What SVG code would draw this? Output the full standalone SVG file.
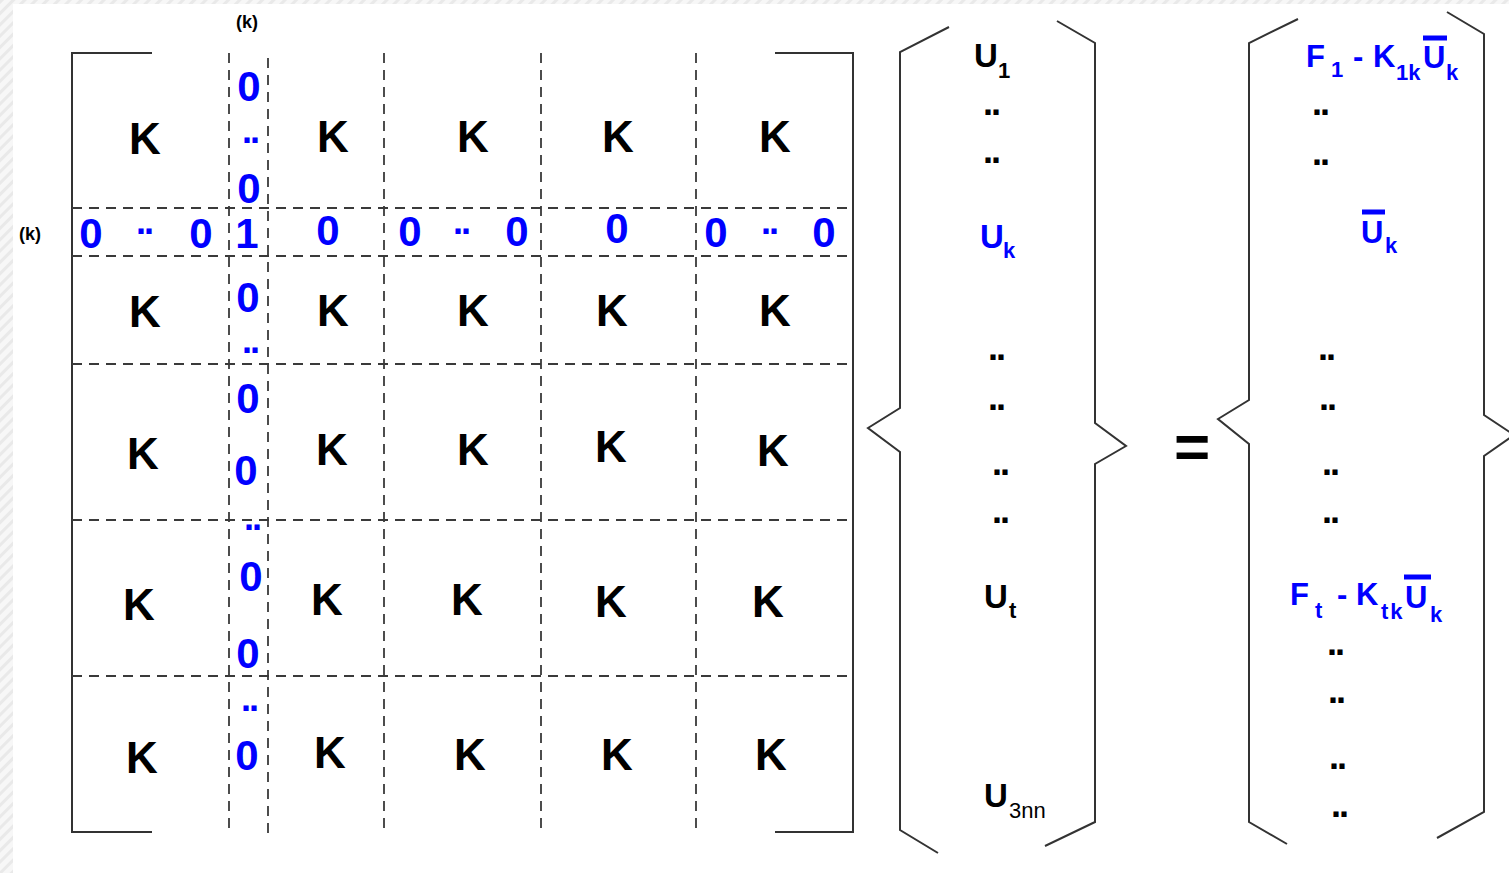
<svg xmlns="http://www.w3.org/2000/svg" width="1509" height="873" viewBox="0 0 1509 873">
<defs>
<pattern id="hatch" width="8" height="8" patternUnits="userSpaceOnUse" patternTransform="rotate(45)">
<rect width="8" height="8" fill="#f7f7f7"/>
<rect width="3" height="8" fill="#e9e9e9"/>
</pattern>
<style>
text{font-family:"Liberation Sans",Arial,sans-serif;font-weight:bold;}
.k{font-size:44px;fill:#000;text-anchor:middle;}
.z{font-size:42px;fill:#0000ff;text-anchor:middle;}
.dz{font-size:36px;fill:#0000ff;text-anchor:middle;letter-spacing:-2px;}
.dk{font-size:36px;fill:#000;text-anchor:middle;letter-spacing:-2px;}
.lbl{font-size:18px;fill:#000;text-anchor:middle;}
.u{font-size:33px;fill:#000;}
.ub{font-size:33px;fill:#0000ff;}
.f{font-size:31px;fill:#0000ff;}
.sub{font-size:22px;}
.br{fill:none;stroke:#333;stroke-width:2;}
.dash{fill:none;stroke:#3a3a3a;stroke-width:1.8;stroke-dasharray:10 7;}
.bar{stroke:#0000ff;stroke-width:5;}
</style>
</defs>
<rect width="1509" height="873" fill="#fff"/>
<rect x="0" y="0" width="13" height="873" fill="url(#hatch)"/>
<rect x="0" y="0" width="1509" height="4" fill="url(#hatch)"/>

<g id="matrix">
<path class="br" d="M152 53 H72 V832 H152"/>
<path class="br" d="M775 53 H853 V832 H775"/>
<g id="grid">
<line class="dash" x1="229" y1="53" x2="229" y2="832"/>
<line class="dash" x1="268" y1="58" x2="268" y2="837"/>
<line class="dash" x1="384" y1="53" x2="384" y2="832"/>
<line class="dash" x1="541" y1="53" x2="541" y2="832"/>
<line class="dash" x1="696" y1="53" x2="696" y2="832"/>
<line class="dash" x1="72" y1="208" x2="853" y2="208"/>
<line class="dash" x1="72" y1="256" x2="853" y2="256"/>
<line class="dash" x1="72" y1="364" x2="853" y2="364"/>
<line class="dash" x1="72" y1="520" x2="853" y2="520"/>
<line class="dash" x1="72" y1="676" x2="853" y2="676"/>
</g>
<text class="lbl" x="247" y="28">(k)</text>
<text class="lbl" x="30" y="240">(k)</text>
<g id="k-entries">
<text class="k" x="145" y="154">K</text>
<text class="k" x="333" y="152">K</text>
<text class="k" x="473" y="152">K</text>
<text class="k" x="618" y="152">K</text>
<text class="k" x="775" y="152">K</text>
<text class="k" x="145" y="327">K</text>
<text class="k" x="333" y="326">K</text>
<text class="k" x="473" y="326">K</text>
<text class="k" x="612" y="326">K</text>
<text class="k" x="775" y="326">K</text>
<text class="k" x="143" y="469">K</text>
<text class="k" x="332" y="465">K</text>
<text class="k" x="473" y="465">K</text>
<text class="k" x="611" y="462">K</text>
<text class="k" x="773" y="466">K</text>
<text class="k" x="139" y="620">K</text>
<text class="k" x="327" y="615">K</text>
<text class="k" x="467" y="615">K</text>
<text class="k" x="611" y="617">K</text>
<text class="k" x="768" y="617">K</text>
<text class="k" x="142" y="773">K</text>
<text class="k" x="330" y="768">K</text>
<text class="k" x="470" y="770">K</text>
<text class="k" x="617" y="770">K</text>
<text class="k" x="771" y="770">K</text>
</g>
<g id="k-column">
<text class="z" x="249" y="101">0</text>
<text class="dz" x="250" y="143">..</text>
<text class="z" x="249" y="203">0</text>
<text class="z" x="247" y="248">1</text>
<text class="z" x="248" y="312">0</text>
<text class="dz" x="250" y="353">..</text>
<text class="z" x="248" y="413">0</text>
<text class="z" x="246" y="485">0</text>
<text class="dz" x="252" y="530">..</text>
<text class="z" x="251" y="591">0</text>
<text class="z" x="248" y="668">0</text>
<text class="dz" x="249" y="711">..</text>
<text class="z" x="247" y="770">0</text>
</g>
<g id="k-row">
<text class="z" x="91" y="248">0</text>
<text class="dz" x="144" y="234">..</text>
<text class="z" x="201" y="248">0</text>
<text class="z" x="328" y="245">0</text>
<text class="z" x="410" y="246">0</text>
<text class="dz" x="461" y="234">..</text>
<text class="z" x="517" y="246">0</text>
<text class="z" x="617" y="243">0</text>
<text class="z" x="716" y="247">0</text>
<text class="dz" x="769" y="234">..</text>
<text class="z" x="824" y="247">0</text>
</g>
</g>

<g id="vector-u">
<path class="br" d="M949 27 L900 52 V408 L868 428 L900 452 V830 L938 853"/>
<path class="br" d="M1057 21 L1095 43 V423 L1126 446 L1095 464 V822 L1045 846"/>
<text class="u" x="974" y="67">U<tspan class="sub" x="998" y="78">1</tspan></text>
<text class="dk" x="991" y="115">..</text>
<text class="dk" x="991" y="163">..</text>
<text class="ub" x="980" y="248">U<tspan class="sub" x="1003" y="258">k</tspan></text>
<text class="dk" x="996" y="360">..</text>
<text class="dk" x="996" y="410">..</text>
<text class="dk" x="1000" y="475">..</text>
<text class="dk" x="1000" y="523">..</text>
<text class="u" x="984" y="608">U<tspan class="sub" x="1009" y="618">t</tspan></text>
<text class="u" x="984" y="807">U<tspan class="sub" x="1009" y="818" style="font-weight:normal">3nn</tspan></text>
</g>

<g id="equals">
<text x="1192" y="468" style="font-size:62px;text-anchor:middle;fill:#000">=</text>
</g>

<g id="vector-f">
<path class="br" d="M1298 19 L1249 43 V400 L1218 419 L1249 444 V822 L1287 844"/>
<path class="br" d="M1447 12 L1484 34 V415 L1514 435 L1484 456 V812 L1437 838"/>
<text class="f" x="1306" y="67">F<tspan class="sub" x="1331" y="77">1</tspan><tspan x="1353" y="67">-</tspan><tspan x="1373" y="67">K</tspan><tspan class="sub" x="1396" y="80">1k</tspan><tspan x="1423" y="68">U</tspan><tspan class="sub" x="1446" y="80">k</tspan></text>
<line class="bar" x1="1423" y1="38" x2="1447" y2="38"/>
<text class="dk" x="1320" y="115">..</text>
<text class="dk" x="1320" y="165">..</text>
<text class="f" x="1361" y="243">U<tspan class="sub" x="1385" y="253">k</tspan></text>
<line class="bar" x1="1362" y1="212" x2="1385" y2="212"/>
<text class="dk" x="1326" y="360">..</text>
<text class="dk" x="1327" y="410">..</text>
<text class="dk" x="1330" y="475">..</text>
<text class="dk" x="1330" y="523">..</text>
<text class="f" x="1290" y="605">F<tspan class="sub" x="1315" y="618">t</tspan><tspan x="1337" y="605">-</tspan><tspan x="1356" y="605">K</tspan><tspan class="sub" x="1381" y="619" style="letter-spacing:2px">tk</tspan><tspan x="1405" y="608">U</tspan><tspan class="sub" x="1430" y="622">k</tspan></text>
<line class="bar" x1="1404" y1="577" x2="1431" y2="577"/>
<text class="dk" x="1335" y="655">..</text>
<text class="dk" x="1336" y="703">..</text>
<text class="dk" x="1337" y="769">..</text>
<text class="dk" x="1339" y="817">..</text>
</g>
</svg>
